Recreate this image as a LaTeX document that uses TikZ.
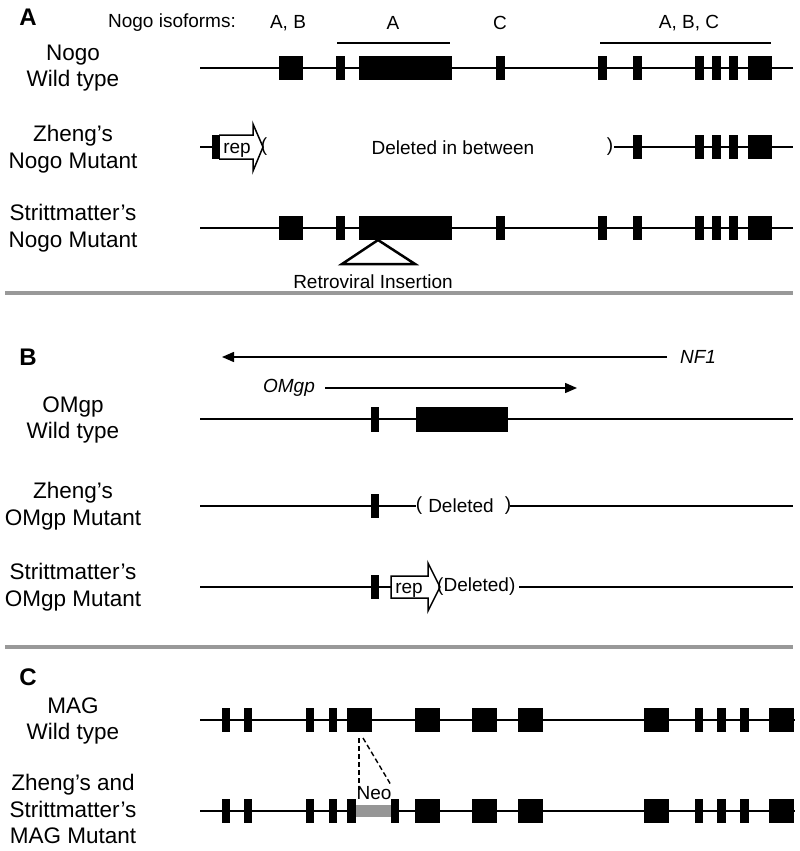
\documentclass[tikz,border=0pt]{standalone}
\usepackage{fontspec}
\setmainfont{Liberation Sans}
\usetikzlibrary{arrows.meta}
\definecolor{sepgray}{RGB}{153,153,153}
\definecolor{neogray}{RGB}{150,150,150}
\tikzset{
	gene/.style={line width=1.8pt},
	lbl/.style={align=center, font=\fontsize{22.5}{26.5}\selectfont, inner sep=0pt},
	txt/.style={font=\fontsize{19}{22}\selectfont, inner sep=0pt},
	ital/.style={font=\fontsize{19}{22}\selectfont\itshape, inner sep=0pt},
	panel/.style={font=\fontsize{24}{28}\selectfont\bfseries, inner sep=0pt},
	sep/.style={line width=4pt, sepgray},
	repbox/.style={line width=1.5pt, fill=white, line join=miter},
	arr/.style={line width=1.5pt, -{Triangle[length=12pt,width=10pt]}}
}
% exons between two heights
\newcommand{\exons}[3]{\foreach \a/\b in {#3} \fill (\a,#1) rectangle (\b,#2);}
\begin{document}
\begin{tikzpicture}[x=1pt,y=-1pt]
	\useasboundingbox (0,0) rectangle (800,851);
	% panel A
	\node[panel] (pA) at (28,17) {A};
	\node[txt] (iso) at (172,23) {Nogo isoforms:};
	\node[txt] (isoAB) at (288,23) {A, B};
	\node[txt] (isoA) at (393,23) {A};
	\node[txt] (isoC) at (500,23) {C};
	\node[txt] (isoABC) at (689,23) {A, B, C};
	\path (337,43) coordinate (barAl) (450,43) coordinate (barAr)
	(600,43) coordinate (barBl) (771,43) coordinate (barBr);
	\draw[line width=1.5pt] (barAl) -- (barAr);
	\draw[line width=1.5pt] (barBl) -- (barBr);
	\node[lbl] (nogoWT) at (73,68) {Nogo\\Wild type};
	\node[lbl] (nogoZ) at (73,149) {Zheng’s\\Nogo Mutant};
	\node[lbl] (nogoS) at (73,228) {Strittmatter’s\\Nogo Mutant};
	\path (200,68) coordinate (nwtL) (793,68) coordinate (nwtR);
	\draw[gene] (nwtL) -- (nwtR);
	\exons{56}{80}{279/303,336/345,359/452,496/505,598/607,633/642,695/704,712/721,729/738,748/772}
	% Zheng
	\path (200,147) coordinate (nzL) (212,147) coordinate (nzA)
	(614,147) coordinate (nzB) (793,147) coordinate (nzR);
	\draw[gene] (nzL) -- (nzA);
	\draw[gene] (nzB) -- (nzR);
	\draw[repbox] (219,135) -- (253,135) -- (253,124) -- (263,147) -- (253,171) -- (253,159) -- (219,159);
	\exons{135}{159}{212/220,633/642,695/704,712/721,729/738,748/772}
	\node[txt, anchor=base] (repA) at (237,153) {rep};
	\node[txt] (pzl) at (264,147) {(};
	\node[txt] (delA) at (453,148) {Deleted in between};
	\node[txt] (pzr) at (610,147) {)};
	% Strittmatter
	\path (200,228) coordinate (nsL) (793,228) coordinate (nsR);
	\draw[gene] (nsL) -- (nsR);
	\exons{216}{240}{279/303,336/345,359/452,496/505,598/607,633/642,695/704,712/721,729/738,748/772}
	\draw[line width=2.5pt, fill=white, line join=miter] (378,240) -- (415,264) -- (342,264) -- cycle;
	\node[txt] (retro) at (373,282) {Retroviral Insertion};
	\draw[sep] (5,293) -- (793,293);
	% panel B
	\node[panel] (pB) at (28,357) {B};
	\path (667,357) coordinate (nfR) (222,357) coordinate (nfL);
	\draw[arr] (nfR) -- (nfL);
	\node[ital] (nf1) at (698,357) {NF1};
	\path (325,388) coordinate (omL) (577,388) coordinate (omR);
	\draw[arr] (omL) -- (omR);
	\node[ital] (omgp) at (289,388) {OMgp};
	\node[lbl] (omWT) at (73,420) {OMgp\\Wild type};
	\node[lbl] (omZ) at (73,506) {Zheng’s\\OMgp Mutant};
	\node[lbl] (omS) at (73,587) {Strittmatter’s\\OMgp Mutant};
	\path (200,419) coordinate (owL) (793,419) coordinate (owR);
	\draw[gene] (owL) -- (owR);
	\exons{407}{432}{371/379,416/508}
	% Zheng
	\path (200,506) coordinate (ozL) (416,506) coordinate (ozA)
	(510,506) coordinate (ozB) (793,506) coordinate (ozR);
	\draw[gene] (ozL) -- (ozA);
	\draw[gene] (ozB) -- (ozR);
	\exons{494}{518}{371/379}
	\node[txt] (ozpl) at (419,506) {(};
	\node[txt] (delB) at (461,506) {Deleted};
	\node[txt] (ozpr) at (508,506) {)};
	% Strittmatter
	\path (200,587) coordinate (osL) (391,587) coordinate (osA)
	(519,587) coordinate (osB) (793,587) coordinate (osR);
	\draw[gene] (osL) -- (osA);
	\draw[gene] (osB) -- (osR);
	\exons{575}{599}{371/379}
	\draw[repbox] (391,576) -- (428,576) -- (428,563) -- (440,587) -- (428,611) -- (428,598) -- (391,598) -- cycle;
	\node[txt, anchor=base] (repB) at (409,593) {rep};
	\node[txt, anchor=west] (delC) at (437,587) {(Deleted)};
	\draw[sep] (5,647) -- (793,647);
	% panel C
	\node[panel] (pC) at (28,677) {C};
	\node[lbl] (magWT) at (73,721) {MAG\\Wild type};
	\node[lbl] (magM) at (73,809) {Zheng’s and\\Strittmatter’s\\MAG Mutant};
	\path (200,720) coordinate (mwL) (795,720) coordinate (mwR);
	\draw[gene] (mwL) -- (mwR);
	\exons{708}{732}{222/230,244/252,306/314,329/337,347/372,415/440,472/497,518/543,644/669,695/703,717/726,740/749,769/794}
	\path (200,811) coordinate (mmL) (795,811) coordinate (mmR);
	\draw[gene] (mmL) -- (mmR);
	\fill[neogray] (356,805) rectangle (391,817);
	\exons{799}{823}{222/230,244/252,306/314,329/337,347/356,391/399,415/440,472/497,518/543,644/669,695/703,717/726,740/749,769/794}
	\node[txt] (neo) at (374,793) {Neo};
	\path (359,738) coordinate (dA) (359,790) coordinate (dB)
	(363,738) coordinate (dC) (391,785) coordinate (dD);
	\draw[line width=1.4pt, dash pattern=on 5pt off 3pt] (dA) -- (dB);
	\draw[line width=1.4pt, dash pattern=on 5pt off 3pt] (dC) -- (dD);
\end{tikzpicture}
\end{document}
